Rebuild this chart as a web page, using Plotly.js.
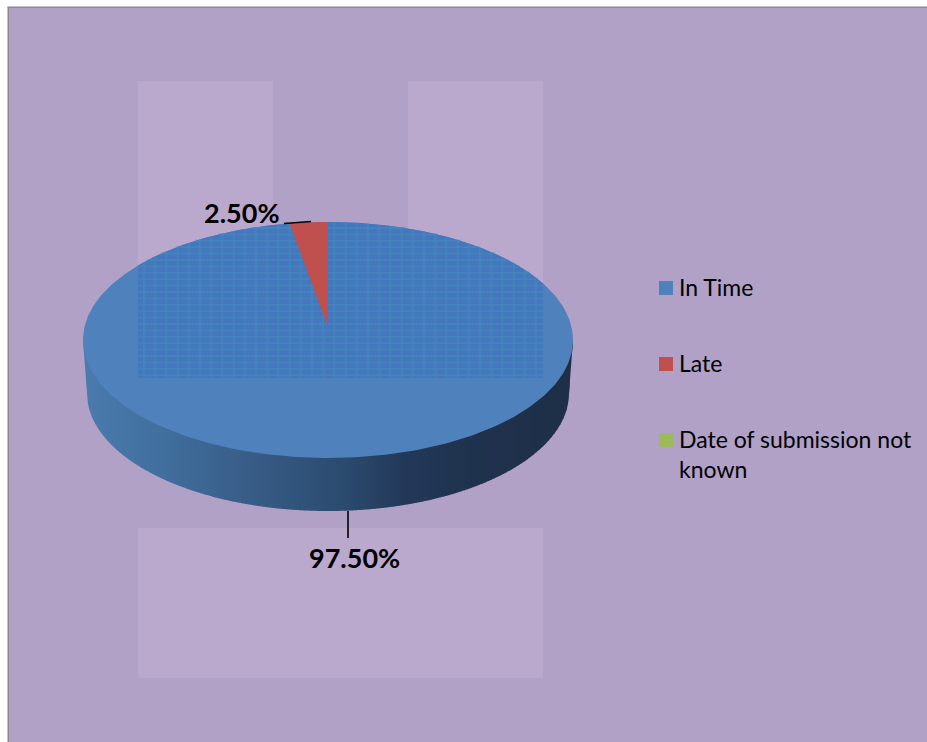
<!DOCTYPE html>
<html>
<head>
<meta charset="utf-8">
<script src="https://cdn.plot.ly/plotly-3.0.1.min.js"></script>
<style>html,body{margin:0;padding:0;background:#fff}#chart{width:927px;height:742px}</style>
</head>
<body>
<div id="chart"></div>
<script>
const categories = ['In Time', 'Late', 'Date of submission not<br>known'];
const shares = [97.5, 2.5, 0];
const labelTexts = shares.map(v => v.toFixed(2) + '%');
const sliceColors = ['#4f81bd', '#c0504d', '#9bbb59'];
const legendRows = [288, 364, 440];

const W = 927, H = 742;
const cx = 328, cy = 340, rx = 245, ry = 118, depth = 53, apexLift = 13, baseRx = 241;
const textureBox = {x0: 138, x1: 543, y1: 378};

function wedge(fromPct, toPct) {
  const xs = [cx], ys = [cy - apexLift];
  const n = Math.max(2, Math.ceil(Math.abs(toPct - fromPct) * 4));
  for (let i = 0; i <= n; i++) {
    const a = (fromPct + (toPct - fromPct) * i / n) / 100 * 2 * Math.PI;
    xs.push(cx + rx * Math.sin(a));
    ys.push(cy - ry * Math.cos(a));
  }
  xs.push(cx); ys.push(cy - apexLift);
  return {x: xs, y: ys};
}
const hexMix = (a, b, t) => {
  const p = s => [1, 3, 5].map(i => parseInt(s.substr(i, 2), 16));
  const A = p(a), B = p(b);
  return 'rgb(' + A.map((v, i) => Math.round(v + (B[i] - v) * t)).join(',') + ')';
};
const lowerEdge = x => cy + ry * Math.sqrt(Math.max(0, 1 - Math.pow((x - cx) / rx, 2)));
const upperEdge = x => cy - ry * Math.sqrt(Math.max(0, 1 - Math.pow((x - cx) / rx, 2)));
const baseEdge = x => {
  const d = Math.abs(x - cx);
  if (d >= baseRx) return cy + depth * (rx - d) / (rx - baseRx);
  return cy + depth + ry * Math.sqrt(1 - Math.pow(d / baseRx, 2));
};

const shapes = [];
const rect = (x0, y0, x1, y1, c) => shapes.push({type: 'rect', layer: 'below', xref: 'x', yref: 'y', x0, y0, x1, y1, fillcolor: c, line: {width: 0}});
rect(8, 7, W + 4, H + 4, '#b1a1c7');
rect(7.5, 7, 9, H + 4, '#8a8a8a');
rect(7.5, 6.5, W + 4, 8, '#8a8a8a');
rect(138, 81, 273, 300, '#baa9cc');
rect(408, 81, 543, 300, '#baa9cc');
rect(138, 528, 543, 678, '#baa9cc');

const rimStops = [[0, '#4a7bad'], [0.15, '#41709f'], [0.31, '#395f8a'], [0.52, '#2c4c70'], [0.65, '#23395a'], [0.79, '#1f324d'], [1, '#1e2f47']];
const rimColor = t => {
  for (let i = 1; i < rimStops.length; i++) {
    if (t <= rimStops[i][0]) {
      const s = rimStops[i - 1], e = rimStops[i];
      return hexMix(s[1], e[1], (t - s[0]) / (e[0] - s[0]));
    }
  }
  return rimStops[rimStops.length - 1][1];
};
const strip = 3;
for (let x = cx - rx; x < cx + rx; x += strip) {
  const xe = Math.min(x + strip + 0.6, cx + rx);
  const pts = [];
  for (let k = 0; k <= 4; k++) { const xx = x + (xe - x) * k / 4; pts.push([xx, lowerEdge(xx) - 6]); }
  for (let k = 4; k >= 0; k--) { const xx = x + (xe - x) * k / 4; pts.push([xx, baseEdge(xx)]); }
  shapes.push({
    type: 'path', layer: 'below', xref: 'x', yref: 'y',
    path: 'M' + pts.map(p => p[0].toFixed(2) + ',' + p[1].toFixed(2)).join('L') + 'Z',
    fillcolor: rimColor((x - cx + rx) / (2 * rx)), line: {width: 0}
  });
}
const leader = (x0, y0, x1, y1) => shapes.push({type: 'line', layer: 'above', xref: 'x', yref: 'y', x0, y0, x1, y1, line: {color: '#000000', width: 1.6}});
leader(284, 223.5, 311, 221.5);
leader(348, 511, 348, 538);

const traces = [];
const sliceTrace = (i, from, to) => {
  const w = wedge(from, to);
  traces.push({type: 'scatter', mode: 'lines', x: w.x, y: w.y, fill: 'toself', fillcolor: sliceColors[i],
    line: {width: 0, color: sliceColors[i]}, showlegend: false, hoverinfo: 'skip'});
};
sliceTrace(0, 0, shares[0]);

const patch = {x: [], y: []};
const stepsP = 80;
for (let i = 0; i <= stepsP; i++) { const x = textureBox.x0 + (textureBox.x1 - textureBox.x0) * i / stepsP; patch.x.push(x); patch.y.push(upperEdge(x)); }
patch.x.push(textureBox.x1, textureBox.x0); patch.y.push(textureBox.y1, textureBox.y1);
traces.push({type: 'scatter', mode: 'lines', x: patch.x, y: patch.y, fill: 'toself', fillcolor: '#4576bf', line: {width: 0}, showlegend: false, hoverinfo: 'skip'});
const hx = [], hy = [];
for (let y = 228; y < textureBox.y1; y += 6.4) {
  const half = rx * Math.sqrt(Math.max(0, 1 - Math.pow((y - cy) / ry, 2)));
  const a = Math.max(textureBox.x0, cx - half), b = Math.min(textureBox.x1, cx + half);
  if (b > a) { hx.push(a, b, null); hy.push(y, y, null); }
}
traces.push({type: 'scatter', mode: 'lines', x: hx, y: hy, line: {color: 'rgba(66,140,185,0.65)', width: 2}, showlegend: false, hoverinfo: 'skip'});
const vx = [], vy = [];
for (let x = textureBox.x0 + 6; x < textureBox.x1; x += 11.2) {
  vx.push(x, x, null); vy.push(upperEdge(x), textureBox.y1, null);
}
traces.push({type: 'scatter', mode: 'lines', x: vx, y: vy, line: {color: 'rgba(66,140,185,0.55)', width: 2}, showlegend: false, hoverinfo: 'skip'});

sliceTrace(1, shares[0], 100);

traces.push({type: 'scatter', mode: 'markers', x: categories.map(() => 666), y: legendRows, showlegend: false, hoverinfo: 'skip',
  marker: {symbol: 'square', size: 14, color: sliceColors, line: {width: 0}}});

const font = {family: 'Lato, Carlito, sans-serif', size: 23, color: '#000000'};
const annotations = categories.map((name, i) => ({
  x: 678, y: legendRows[i] - 16, xref: 'x', yref: 'y', xanchor: 'left', yanchor: 'top', align: 'left',
  text: name, showarrow: false, font: font, borderpad: 0
}));
const boldFont = {family: 'Lato, Carlito, sans-serif', size: 27, color: '#000000'};
annotations.push(
  {x: 242, y: 212.5, xref: 'x', yref: 'y', text: '<b>' + labelTexts[1] + '</b>', showarrow: false, font: boldFont},
  {x: 354, y: 557.5, xref: 'x', yref: 'y', text: '<b>' + labelTexts[0] + '</b>', showarrow: false, font: boldFont}
);

const layout = {
  width: W, height: H,
  margin: {l: 0, r: 0, t: 0, b: 0, pad: 0},
  paper_bgcolor: '#ffffff', plot_bgcolor: 'rgba(0,0,0,0)',
  xaxis: {range: [0, W], visible: false, fixedrange: true},
  yaxis: {range: [H, 0], visible: false, fixedrange: true},
  shapes: shapes,
  showlegend: false,
  annotations: annotations
};
Plotly.newPlot('chart', traces, layout, {displayModeBar: false, responsive: false});
</script>
</body>
</html>
